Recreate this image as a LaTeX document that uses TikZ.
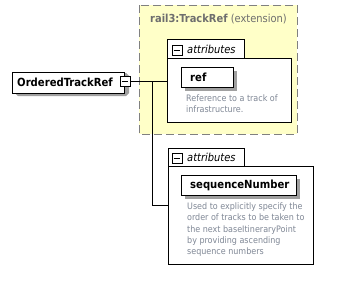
\documentclass[tikz,border=0pt]{standalone}
\usepackage{fontspec}
\setmainfont{DejaVu Sans Condensed}
\usetikzlibrary{shapes.misc}
\definecolor{extfill}{RGB}{255,255,200}
\definecolor{extline}{RGB}{128,128,128}
\definecolor{desctext}{RGB}{128,136,150}
\definecolor{titletext}{RGB}{110,110,110}
\definecolor{shadowgray}{RGB}{160,160,160}
\tikzset{
  box/.style={draw=black, line width=1pt, fill=white, anchor=north west, inner sep=0pt},
  minusbox/.style={draw=black, line width=0.7pt, fill=white, minimum size=10pt, inner sep=0pt},
  desc/.style={anchor=north west, inner sep=0pt, text=desctext, font=\fontsize{8.9}{11.3}\selectfont, align=left},
  namefont/.style={font=\bfseries\fontsize{11.2}{12}\selectfont},
  labelfont/.style={font=\fontsize{11}{12}\selectfont},
  grouplabel/.style={anchor=west, inner sep=0pt, font={\itshape\fontsize{11}{12}\selectfont}},
  conn/.style={draw=black, line width=0.9pt},
  rootshape/.style={chamfered rectangle, chamfered rectangle xsep=3pt,
      chamfered rectangle ysep=3pt, minimum width=112pt, minimum height=21pt, inner sep=0pt},
}
\begin{document}
\begin{tikzpicture}[x=1pt, y=-1pt]
\useasboundingbox (0,0) rectangle (338,281);
% extension frame
\fill[extfill] (139,5) rectangle (297,134);
\draw[extline, dash pattern=on 8pt off 4pt, line width=1pt] (139,5) rectangle (297,134);
\node[anchor=west, inner sep=0pt, text=titletext, labelfont] (exttitle) at (150,19) {\textbf{rail3:TrackRef} (extension)};
% first attribute group
\node[box, minimum width=77pt, minimum height=19pt] (tabA) at (167,39) {};
\node[box, minimum width=124pt, minimum height=64pt] (bodyA) at (167,58) {};
\node[minusbox] (minusA) at (177,50) {};
\draw[line width=0.7pt] (minusA.west) ++(2pt,0) -- ++(6pt,0);
\node[grouplabel] (lblA) at (187,49.5) {attributes};
\fill[shadowgray] (185,71) rectangle (237,91);
\node[box, minimum width=52pt, minimum height=20pt] (ref) at (181,67) {};
\node[anchor=west, inner sep=0pt, namefont] (refname) at (190,77) {ref};
\node[desc] (refdesc) at (186,94.5) {Reference to a track of\\infrastructure.};
% second attribute group
\node[box, minimum width=76pt, minimum height=18pt] (tabB) at (168,148) {};
\node[box, minimum width=145pt, minimum height=98pt] (bodyB) at (168,166) {};
\node[minusbox] (minusB) at (177,158) {};
\draw[line width=0.7pt] (minusB.west) ++(2pt,0) -- ++(6pt,0);
\node[grouplabel] (lblB) at (187,157.5) {attributes};
\fill[shadowgray] (185,179) rectangle (300,199);
\node[box, minimum width=115pt, minimum height=20pt] (seq) at (181,175) {};
\node[anchor=west, inner sep=0pt, namefont] (seqname) at (190,185) {sequenceNumber};
\node[desc] (seqdesc) at (187,202.5) {Used to explicitly specify the\\order of tracks to be taken to\\the next baseItineraryPoint\\by providing ascending\\sequence numbers};
% root element
\fill[shadowgray] (15,76) -- (18,73) -- (126,73) -- (129,76) -- (129,93) -- (126,96) -- (18,96) -- (15,93) -- cycle;
\node[rootshape, draw=black, line width=1pt, fill=white] (root) at (68,82.5) {};
\node[anchor=west, inner sep=0pt, namefont] (rootname) at (17,82) {OrderedTrackRef};
\node[minusbox] (rootminus) at (125,81) {};
\draw[line width=0.7pt] (rootminus.west) ++(2pt,0) -- ++(6pt,0);
% connectors
\coordinate (branch) at (152,81);
\coordinate (elbow) at (152,205);
\draw[conn] (rootminus.east) -- (bodyA.west |- rootminus.east);
\draw[conn] (branch) -- (elbow) -- (bodyB.west |- elbow);
\end{tikzpicture}
\end{document}
